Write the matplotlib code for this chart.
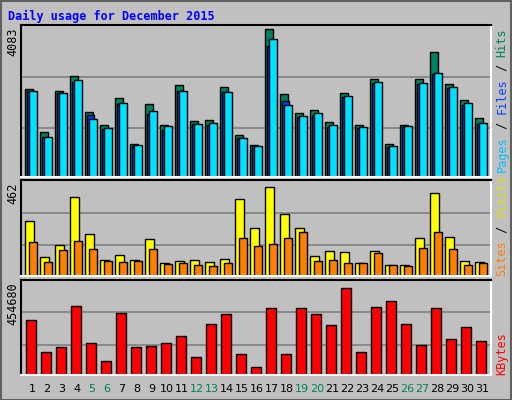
import matplotlib.pyplot as plt
from matplotlib.patches import Rectangle
import numpy as np

days = list(range(1, 32))
weekend = [5, 6, 12, 13, 19, 20, 26, 27]

hits = [2439, 1251, 2385, 2790, 1791, 1440, 2196, 900, 2007, 1440, 2547, 1548, 1575, 2493, 1170, 873,
        4083, 2286, 1764, 1845, 1521, 2331, 1440, 2709, 900, 1440, 2709, 3465, 2574, 2142, 1629]
files = [2367, 1116, 2322, 2637, 1710, 1332, 2016, 846, 1737, 1314, 2385, 1458, 1440, 2340, 1080, 846,
         3627, 2115, 1647, 1710, 1386, 2205, 1350, 2592, 837, 1386, 2583, 2844, 2457, 1980, 1458]
pages = [2385, 1116, 2331, 2682, 1602, 1359, 2034, 873, 1818, 1413, 2385, 1467, 1494, 2358, 1089, 846,
         3816, 1980, 1683, 1764, 1440, 2250, 1386, 2628, 846, 1413, 2601, 2871, 2493, 2043, 1494]
visits = [274, 96, 154, 395, 212, 82, 106, 82, 183, 67, 77, 82, 72, 87, 385, 241,
          443, 308, 241, 101, 125, 120, 67, 125, 53, 53, 192, 414, 197, 77, 72]
sites = [168, 72, 130, 173, 135, 77, 72, 77, 135, 58, 63, 53, 48, 63, 188, 149,
         159, 188, 221, 77, 82, 67, 63, 115, 53, 48, 140, 221, 135, 53, 67]
kbytes = [277600, 115000, 139000, 349000, 163000, 72000, 311000, 139000, 144000, 163000, 196000,
          91000, 258000, 306000, 105000, 38000, 335000, 105000, 335000, 306000, 249000, 435000,
          115000, 340000, 373000, 258000, 153000, 335000, 182000, 239000, 172000]

W, H = 512, 400
fig = plt.figure(figsize=(W / 100, H / 100), dpi=100)
fig.patch.set_facecolor('#c0c0c0')
fig.patches.append(Rectangle((0.5 / W, 0.5 / H), 1 - 1.5 / W, 1 - 1.5 / H, transform=fig.transFigure,
                             fill=False, edgecolor='#606060', lw=1.5))

mono = 'DejaVu Sans Mono'
px = 1 / 15.0  # one pixel in day units
x = np.array(days, dtype=float)


def panel(top, bottom, ymax):
    ax = fig.add_axes([21 / W, (H - bottom) / H, 470 / W, (bottom - top) / H])
    ax.set_facecolor('#c0c0c0')
    ax.set_xlim(1 - 10 * px, 1 - 10 * px + 470 * px)
    ax.set_ylim(0, ymax)
    for f in (0.32, 0.66):
        ax.axhline(ymax * f, color='#808080', lw=1.2, zorder=0)
    ax.set_xticks([])
    ax.set_yticks([])
    for s in ('top', 'left'):
        ax.spines[s].set_color('black')
    for s in ('right', 'bottom'):
        ax.spines[s].set_color('white')
    for s in ax.spines.values():
        s.set_linewidth(1.5)
    return ax


def bars(ax, vals, off, w, color):
    ax.bar(x + off * px, vals, width=w * px, align='edge', color=color, edgecolor='black', lw=1.0)


ax1 = panel(25, 177, 4083 * 1.03)
bars(ax1, hits, -6, 8, '#00805c')
bars(ax1, files, -4, 7, '#0040ff')
bars(ax1, pages, -2, 8, '#00e0ff')

ax2 = panel(180, 276, 462 * 1.04)
bars(ax2, visits, -6, 9, '#ffff00')
bars(ax2, sites, -2, 8, '#ff8000')

ax3 = panel(280, 375, 454680 * 1.05)
bars(ax3, kbytes, -5, 10, '#ff0000')


def ftxt(xp, yp, s, family=mono, **kw):
    fig.text(xp / W, (H - yp) / H, s, family=family, **kw)


ftxt(8, 16, 'Daily usage for December 2015', color='#0000ff', fontsize=8.5, weight='bold', va='center')
for lbl, yp in (('4083', 27), ('462', 183), ('454680', 282)):
    ftxt(13, yp, lbl, rotation=90, ha='center', va='top', fontsize=8.5)

for d in days:
    ftxt(32 + (d - 1) * 15, 389, str(d), ha='center', va='center', fontsize=8,
         color='#00805c' if d in weekend else 'black', family='DejaVu Sans')


def side(ybottom, parts):
    yp = ybottom
    for s, c in parts:
        ftxt(502, yp, s, color=c, rotation=90, ha='center', va='bottom', fontsize=8.5)
        yp -= len(s) * 7.2


side(172, [('Pages', '#00c0ff'), (' / ', 'black'), ('Files', '#0040ff'), (' / ', 'black'), ('Hits', '#00805c')])
side(276, [('Sites', '#ff8000'), (' / ', 'black'), ('Visits', '#e0e000')])
side(375, [('KBytes', '#ff0000')])

fig.savefig('out.png', dpi=100, facecolor=fig.get_facecolor())
